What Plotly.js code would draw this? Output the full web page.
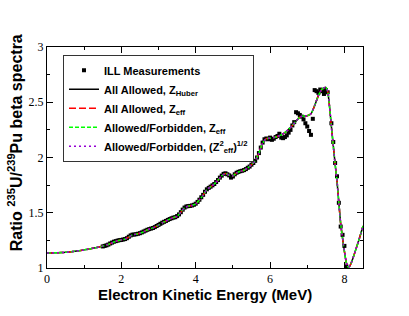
<!DOCTYPE html>
<html>
<head>
<meta charset="utf-8">
<script src="https://cdn.plot.ly/plotly-3.0.1.min.js"></script>
<style>html,body{margin:0;padding:0;background:#fff;}#chart{width:409px;height:316px;}</style>
</head>
<body>
<div id="chart"></div>
<script>
// Model curve (energy in MeV, ratio)
var curveE = [0,0.1,0.2,0.3,0.4,0.5,0.6,0.7,0.8,0.9,1.0,1.1,1.2,1.3,1.4,1.5,1.6,1.7,1.8,1.9,
  2.0,2.1,2.2,2.3,2.4,2.5,2.6,2.7,2.8,2.9,3.0,3.1,3.2,3.3,3.4,3.5,3.6,3.7,3.8,3.9,
  4.0,4.1,4.2,4.3,4.4,4.5,4.6,4.7,4.8,4.9,5.0,5.1,5.2,5.3,5.4,5.5,5.6,5.7,5.8,5.9,
  6.0,6.1,6.2,6.3,6.4,6.5,6.6,6.7,6.8,6.9,7.0,7.1,7.2,7.3,7.4,7.5,7.55,7.6,7.65,7.7,
  7.75,7.8,7.85,7.9,7.95,8.0,8.05,8.1,8.15,8.2,8.3,8.4,8.5];
var curveR = [1.135,1.136,1.137,1.138,1.140,1.142,1.145,1.149,1.153,1.158,1.164,1.170,1.176,1.183,1.190,1.198,1.208,1.220,1.235,1.247,
  1.255,1.262,1.280,1.300,1.306,1.314,1.328,1.345,1.357,1.370,1.388,1.408,1.425,1.442,1.456,1.468,1.505,1.545,1.560,1.565,
  1.580,1.615,1.660,1.710,1.735,1.760,1.795,1.835,1.855,1.840,1.835,1.860,1.875,1.885,1.905,1.935,1.970,2.040,2.130,2.170,
  2.175,2.180,2.190,2.205,2.225,2.255,2.290,2.330,2.365,2.375,2.378,2.395,2.470,2.560,2.620,2.635,2.600,2.460,2.280,2.110,
  1.940,1.790,1.590,1.400,1.270,1.150,1.050,1.008,1.020,1.060,1.160,1.265,1.380];

// ILL measurements
var illE = [1.50,1.55,1.60,1.65,1.70,1.75,1.80,1.85,1.90,1.95,2.00,2.05,2.10,2.15,2.20,2.25,2.30,2.35,2.40,2.45,
  2.50,2.55,2.60,2.65,2.70,2.75,2.80,2.85,2.90,2.95,3.00,3.05,3.10,3.15,3.20,3.25,3.30,3.35,3.40,3.45,
  3.50,3.55,3.60,3.65,3.70,3.75,3.80,3.85,3.90,3.95,4.00,4.05,4.10,4.15,4.20,4.25,4.30,4.35,4.40,4.45,
  4.50,4.55,4.60,4.65,4.70,4.75,4.80,4.85,4.90,4.95,5.00,5.05,5.10,5.15,5.20,5.25,5.30,5.35,5.40,5.45,
  5.50,5.55,5.60,5.65,5.70,5.75,5.80,5.85,5.90,5.95,6.00,6.05,6.10,6.15,6.20,6.25,6.30,6.35,6.40,6.45,
  6.50,6.55,6.60,6.65,6.70,6.75,6.80,6.85,6.90,6.95,7.00,7.05,7.10,7.15,7.20,7.25,7.30,7.35,7.40,7.45,
  7.50,7.55,7.65,7.70,7.75,7.80,7.85,7.90,7.95,8.00,8.05];
var illR = [1.195,1.200,1.205,1.212,1.222,1.230,1.238,1.243,1.248,1.252,1.254,1.258,1.262,1.270,1.283,1.295,1.302,1.303,1.306,1.310,
  1.315,1.322,1.330,1.338,1.346,1.352,1.357,1.362,1.370,1.380,1.390,1.400,1.410,1.418,1.426,1.435,1.443,1.450,1.456,1.460,
  1.470,1.485,1.505,1.528,1.547,1.557,1.560,1.562,1.566,1.572,1.582,1.598,1.618,1.640,1.662,1.690,1.712,1.725,1.736,1.748,
  1.760,1.778,1.796,1.818,1.836,1.852,1.857,1.848,1.838,1.818,1.828,1.848,1.862,1.870,1.876,1.880,1.886,1.895,1.907,1.918,
  1.935,1.950,1.970,2.000,2.040,2.090,2.135,2.165,2.172,2.165,2.180,2.160,2.170,2.185,2.195,2.215,2.180,2.175,2.185,2.200,
  2.225,2.250,2.290,2.320,2.410,2.400,2.385,2.370,2.345,2.310,2.280,2.240,2.205,2.350,2.610,2.600,2.585,2.615,2.600,2.575,
  2.610,2.590,2.310,2.140,1.950,1.830,1.590,1.375,1.300,1.200,1.015];

var seriesNames = [
  'ILL Measurements',
  'All Allowed, Z<sub>Huber</sub>',
  'All Allowed, Z<sub>eff</sub>',
  'Allowed/Forbidden, Z<sub>eff</sub>',
  'Allowed/Forbidden, (Z<sup>2</sup><sub>eff</sub>)<sup>1/2</sup>'
];
var xTicks = [0,2,4,6,8];
var yTicks = [1,1.5,2,2.5,3];
var xTitle = 'Electron Kinetic Energy (MeV)';
var yTitle = 'Ratio <sup>235</sup>U/<sup>239</sup>Pu beta spectra';

var traces = [
  {x: illE, y: illR, mode: 'markers', name: seriesNames[0],
   marker: {symbol: 'square', size: 4, color: '#000'}},
  {x: curveE, y: curveR, mode: 'lines', name: seriesNames[1], line: {color: '#000', width: 1.5, shape: 'spline', smoothing: 0.6}},
  {x: curveE, y: curveR, mode: 'lines', name: seriesNames[2], line: {color: '#ff0000', width: 1.5, dash: '7px,3px', shape: 'spline', smoothing: 0.6}},
  {x: curveE, y: curveR, mode: 'lines', name: seriesNames[3], line: {color: '#00ff00', width: 1.5, dash: '4px,2px', shape: 'spline', smoothing: 0.6}},
  {x: curveE, y: curveR, mode: 'lines', name: seriesNames[4], line: {color: '#9400d3', width: 1.5, dash: '2px,3px', shape: 'spline', smoothing: 0.6}}
];

var serif = 'Liberation Serif, Times New Roman, serif';
var sans = 'Liberation Sans, Arial, sans-serif';
var tickFont = {family: serif, size: 12, color: '#000'};

var layout = {
  width: 409, height: 316,
  margin: {l: 47, r: 46, t: 47, b: 48},
  paper_bgcolor: '#fff', plot_bgcolor: '#fff',
  showlegend: true,
  legend: {
    x: 0.0506, y: 0.965, xanchor: 'left', yanchor: 'top',
    bgcolor: '#fff', bordercolor: '#333', borderwidth: 1,
    font: {family: sans, weight: 'bold', size: 11, color: '#000'},
    tracegroupgap: 0
  },
  xaxis: {
    range: [0, 8.5], tickvals: xTicks, ticktext: xTicks.map(String),
    ticks: 'inside', ticklen: 6, tickcolor: '#000', tickwidth: 1,
    minor: {dtick: 1, tick0: 0, ticks: 'inside', ticklen: 3, tickcolor: '#000', showgrid: false},
    showline: true, linecolor: '#000', linewidth: 1, mirror: 'ticks',
    showgrid: false, zeroline: false, tickfont: tickFont
  },
  yaxis: {
    range: [1, 3], tickvals: yTicks, ticktext: yTicks.map(String),
    ticks: 'inside', ticklen: 6, tickcolor: '#000', tickwidth: 1,
    minor: {dtick: 0.25, tick0: 1, ticks: 'inside', ticklen: 3, tickcolor: '#000', showgrid: false},
    showline: true, linecolor: '#000', linewidth: 1, mirror: 'ticks',
    showgrid: false, zeroline: false, tickfont: tickFont
  },
  annotations: [
    {text: yTitle, xref: 'paper', yref: 'paper', x: -0.099, y: 0.568,
     xanchor: 'center', yanchor: 'middle', textangle: -90, showarrow: false,
     font: {family: sans, weight: 'bold', size: 16, color: '#000'}},
    {text: xTitle, xref: 'paper', yref: 'paper', x: 0.5, y: -0.077,
     xanchor: 'center', yanchor: 'top', borderpad: 0, showarrow: false,
     font: {family: sans, weight: 'bold', size: 15, color: '#000'}}
  ]
};

Plotly.newPlot('chart', traces, layout, {staticPlot: true, displayModeBar: false});
</script>
</body>
</html>
